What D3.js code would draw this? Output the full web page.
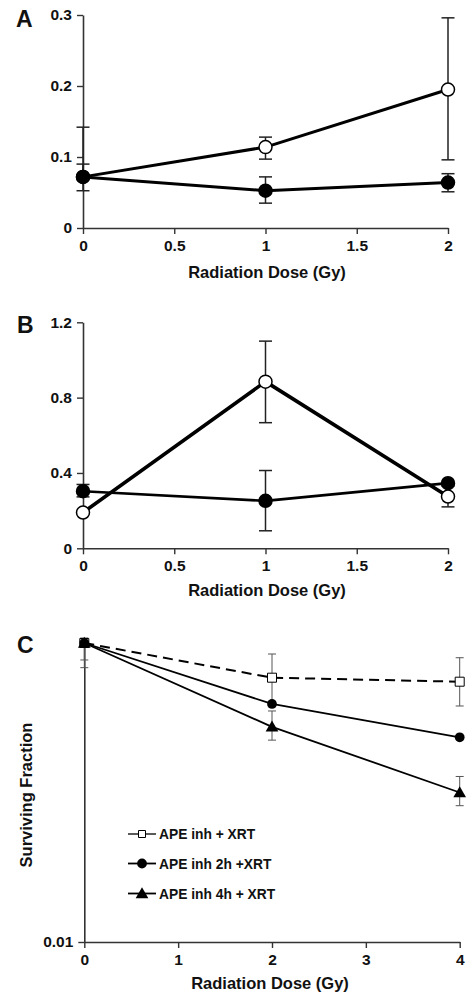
<!DOCTYPE html>
<html>
<head>
<meta charset="utf-8">
<script src="https://cdn.jsdelivr.net/npm/d3@7"></script>
<style>
  html, body { margin: 0; padding: 0; background: #fff; }
  svg { display: block; }
  text { font-family: "Liberation Sans", Arial, sans-serif; font-weight: bold; fill: #111; }
</style>
</head>
<body>
<script>
// ---------- DATA ----------
const dosesAB = [0, 1, 2];
const xTicksAB = [0, 0.5, 1, 1.5, 2];

const aYTicks = [0, 0.1, 0.2, 0.3];
const aOpen = [0.072, 0.114, 0.195];
const aOpenLo = [0.072, 0.097, 0.096];
const aOpenHi = [0.142, 0.128, 0.296];
const aFilled = [0.072, 0.0525, 0.064];
const aFilledLo = [0.0525, 0.035, 0.051];
const aFilledHi = [0.090, 0.072, 0.0765];

const bYTicks = [0, 0.4, 0.8, 1.2];
const bOpen = [0.19, 0.885, 0.275];
const bOpenLo = [0.19, 0.667, 0.22];
const bOpenHi = [0.19, 1.10, 0.33];
const bFilled = [0.303, 0.252, 0.346];
const bFilledLo = [0.273, 0.093, 0.346];
const bFilledHi = [0.339, 0.413, 0.346];

const dosesC = [0, 2, 4];
const cXTicks = [0, 1, 2, 3, 4];
const cYTicks = [0.01];
const cSeriesNames = ["APE inh + XRT", "APE inh 2h +XRT", "APE inh 4h + XRT"];
const cSquare = [1, 0.586, 0.551];
const cSquareLo = [0.684, 0.407, 0.379];
const cSquareHi = [1.08, 0.844, 0.797];
const cCircle = [1, 0.391, 0.234];
const cCircleLo = [0.77, 0.391, 0.234];
const cCircleHi = [1, 0.391, 0.234];
const cTriangle = [1, 0.275, 0.100];
const cTriangleLo = [1, 0.224, 0.0816];
const cTriangleHi = [1, 0.351, 0.128];

const xTitle = "Radiation Dose (Gy)";
const cYTitle = "Surviving Fraction";

// ---------- DRAW ----------
const W = 472, H = 1003;
const svg = d3.select("body").append("svg").attr("width", W).attr("height", H);

const AXIS_COLOR = "#333";

function drawAxes(g, x, y, xTicks, yTicks, xFmt, yFmt) {
  const xAxis = g.append("g").attr("transform", `translate(0,${y.range()[0]})`)
    .call(d3.axisBottom(x).tickValues(xTicks).tickFormat(xFmt).tickSizeOuter(0).tickSizeInner(6).tickPadding(6));
  const yAxis = g.append("g").attr("transform", `translate(${x.range()[0]},0)`)
    .call(d3.axisLeft(y).tickValues(yTicks).tickFormat(yFmt).tickSizeOuter(0).tickSizeInner(6).tickPadding(5));
  [xAxis, yAxis].forEach(a => {
    a.select(".domain").attr("stroke", AXIS_COLOR).attr("stroke-width", 1.6);
    a.selectAll(".tick line").attr("stroke", AXIS_COLOR).attr("stroke-width", 1.4);
    a.selectAll(".tick text").attr("font-size", 15.5).attr("font-weight", "bold")
      .attr("font-family", '"Liberation Sans", Arial, sans-serif').attr("fill", "#111");
  });
  xAxis.selectAll(".tick text").attr("dy", "0.71em").attr("y", 12);
  return { xAxis, yAxis };
}

function errorBars(g, x, y, xs, lo, hi, cap, color, width) {
  const d = xs.map((v, i) => ({ x: v, lo: lo[i], hi: hi[i] })).filter(e => e.hi !== e.lo);
  const eg = g.append("g");
  d.forEach(e => {
    const cx = x(e.x);
    eg.append("line").attr("x1", cx).attr("x2", cx).attr("y1", y(e.lo)).attr("y2", y(e.hi))
      .attr("stroke", color).attr("stroke-width", width);
    [e.lo, e.hi].forEach(v => {
      eg.append("line").attr("x1", cx - cap).attr("x2", cx + cap).attr("y1", y(v)).attr("y2", y(v))
        .attr("stroke", color).attr("stroke-width", width);
    });
  });
}

function series(g, x, y, xs, ys, lineWidth, dash) {
  const line = d3.line().x(d => x(d[0])).y(d => y(d[1]));
  g.append("path").datum(xs.map((v, i) => [v, ys[i]])).attr("d", line)
    .attr("fill", "none").attr("stroke", "#000").attr("stroke-width", lineWidth)
    .attr("stroke-dasharray", dash || null).attr("stroke-linejoin", "round");
}

function circles(g, x, y, xs, ys, r, filled) {
  g.selectAll(null).data(xs.map((v, i) => [v, ys[i]])).enter().append("circle")
    .attr("cx", d => x(d[0])).attr("cy", d => y(d[1])).attr("r", r)
    .attr("fill", filled ? "#000" : "#fff").attr("stroke", "#000").attr("stroke-width", 1.5);
}

function panelLabel(txt, px, py) {
  svg.append("text").attr("x", px).attr("y", py).attr("font-size", 23).text(txt);
}

const fmtAB = d => d3.format("")(d);

// ----- Panel A -----
{
  const x = d3.scaleLinear().domain([0, 2]).range([83, 448]);
  const y = d3.scaleLinear().domain([0, 0.3]).range([228, 15]);
  const g = svg.append("g");
  drawAxes(g, x, y, xTicksAB, aYTicks, fmtAB, d3.format(""));
  errorBars(g, x, y, dosesAB, aOpenLo, aOpenHi, 6.5, "#222", 1.5);
  errorBars(g, x, y, dosesAB, aFilledLo, aFilledHi, 6.5, "#222", 1.5);
  series(g, x, y, dosesAB, aOpen, 3);
  series(g, x, y, dosesAB, aFilled, 3);
  circles(g, x, y, dosesAB, aOpen, 6.5, false);
  circles(g, x, y, dosesAB, aFilled, 6.5, true);
  g.append("text").attr("x", 267).attr("y", 278).attr("text-anchor", "middle").attr("font-size", 16.5).text(xTitle);
  panelLabel("A", 16, 27);
}

// ----- Panel B -----
{
  const x = d3.scaleLinear().domain([0, 2]).range([83, 448]);
  const y = d3.scaleLinear().domain([0, 1.2]).range([548.3, 322.3]);
  const g = svg.append("g");
  drawAxes(g, x, y, xTicksAB, bYTicks, fmtAB, d3.format(""));
  errorBars(g, x, y, dosesAB, bFilledLo, bFilledHi, 6.5, "#222", 1.5);
  errorBars(g, x, y, dosesAB, bOpenLo, bOpenHi, 6.5, "#222", 1.5);
  series(g, x, y, dosesAB, bFilled, 2.6);
  series(g, x, y, dosesAB, bOpen, 3.6);
  circles(g, x, y, dosesAB, bFilled, 6.5, true);
  circles(g, x, y, dosesAB, bOpen, 6.5, false);
  g.append("text").attr("x", 267).attr("y", 596).attr("text-anchor", "middle").attr("font-size", 16.5).text(xTitle);
  panelLabel("B", 17, 333);
}

// ----- Panel C -----
{
  const x = d3.scaleLinear().domain([0, 4]).range([84.3, 459.7]);
  const y = d3.scaleLog().domain([0.01, 1]).range([942, 643]);
  const g = svg.append("g");
  drawAxes(g, x, y, cXTicks, cYTicks, d3.format(""), d3.format(""));
  errorBars(g, x, y, dosesC, cSquareLo, cSquareHi, 4, "#555", 1);
  errorBars(g, x, y, dosesC, cCircleLo, cCircleHi, 4, "#555", 1);
  errorBars(g, x, y, dosesC, cTriangleLo, cTriangleHi, 4, "#555", 1);
  series(g, x, y, dosesC, cSquare, 2, "10,6");
  series(g, x, y, dosesC, cCircle, 1.8);
  series(g, x, y, dosesC, cTriangle, 1.8);

  const sq = d3.symbol().type(d3.symbolSquare).size(81);
  const ci = d3.symbol().type(d3.symbolCircle).size(75);
  const tr = d3.symbol().type(d3.symbolTriangle).size(70);

  g.selectAll(null).data(dosesC.map((v, i) => [v, cSquare[i]])).enter().append("path")
    .attr("d", sq).attr("transform", d => `translate(${x(d[0])},${y(d[1])})`)
    .attr("fill", "#fff").attr("stroke", "#000").attr("stroke-width", 1);
  g.selectAll(null).data(dosesC.map((v, i) => [v, cCircle[i]])).enter().append("path")
    .attr("d", ci).attr("transform", d => `translate(${x(d[0])},${y(d[1])})`).attr("fill", "#000");
  g.selectAll(null).data(dosesC.map((v, i) => [v, cTriangle[i]])).enter().append("path")
    .attr("d", tr).attr("transform", d => `translate(${x(d[0])},${y(d[1]) + 1})`).attr("fill", "#000");

  g.append("text").attr("x", 270).attr("y", 989).attr("text-anchor", "middle").attr("font-size", 16.5).text(xTitle);
  g.append("text").attr("transform", "translate(32,795) rotate(-90)").attr("text-anchor", "middle")
    .attr("font-size", 16.5).text(cYTitle);
  panelLabel("C", 17, 653);

  // legend
  const legY = [834, 863.5, 893.5];
  const syms = [sq, ci, tr];
  const lg = g.append("g");
  cSeriesNames.forEach((name, i) => {
    lg.append("line").attr("x1", 128).attr("x2", 156).attr("y1", legY[i]).attr("y2", legY[i])
      .attr("stroke", "#000").attr("stroke-width", i === 0 ? 1.3 : 1.8);
    const p = lg.append("path").attr("d", i === 0 ? d3.symbol().type(d3.symbolSquare).size(49)() : syms[i]())
      .attr("transform", `translate(142,${legY[i] + (i === 2 ? 1 : 0)})`);
    if (i === 0) p.attr("fill", "#fff").attr("stroke", "#000").attr("stroke-width", 1);
    else p.attr("fill", "#000");
    lg.append("text").attr("x", 159).attr("y", legY[i] + 5).attr("font-size", 13.8).text(name);
  });
}
</script>
</body>
</html>
